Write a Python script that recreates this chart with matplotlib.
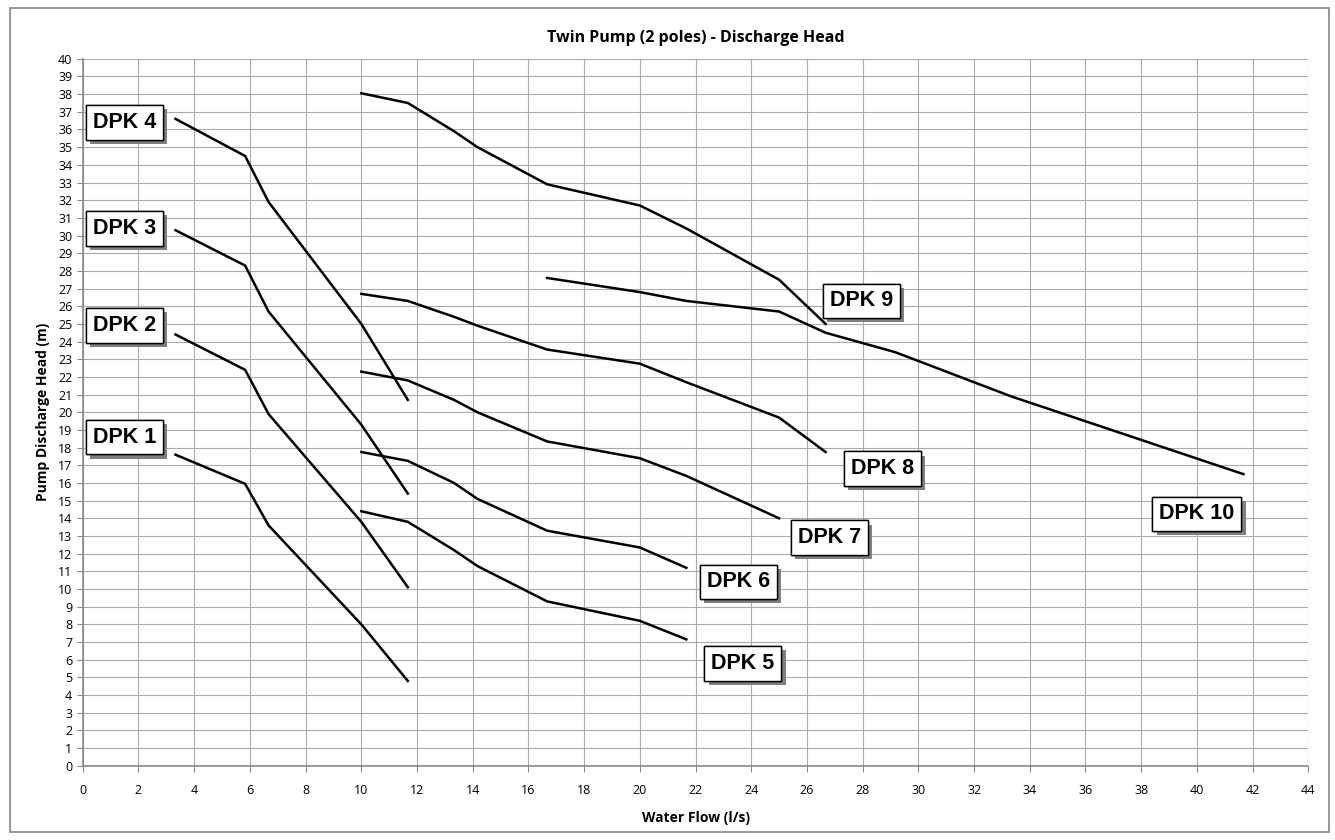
import matplotlib
matplotlib.use("Agg")
import matplotlib.pyplot as plt
import matplotlib.patheffects as pe
from matplotlib.patches import Rectangle

# flow values (l/s) and heads (m)
dpk1_x = [3.33, 5.83, 6.67, 10.0, 11.67]
dpk1_y = [17.6, 15.95, 13.6, 8.0, 4.8]
dpk2_x = [3.33, 5.83, 6.67, 10.0, 11.67]
dpk2_y = [24.4, 22.4, 19.9, 13.8, 10.1]
dpk3_x = [3.33, 5.83, 6.67, 10.0, 11.67]
dpk3_y = [30.3, 28.3, 25.7, 19.3, 15.4]
dpk4_x = [3.33, 5.83, 6.67, 10.0, 11.67]
dpk4_y = [36.6, 34.5, 31.9, 25.0, 20.7]
dpk5_x = [10.0, 11.67, 13.33, 14.17, 16.67, 20.0, 21.67]
dpk5_y = [14.4, 13.8, 12.2, 11.3, 9.3, 8.2, 7.15]
dpk6_x = [10.0, 11.67, 13.33, 14.17, 16.67, 20.0, 21.67]
dpk6_y = [17.75, 17.25, 16.0, 15.1, 13.3, 12.35, 11.2]
dpk7_x = [10.0, 11.67, 13.33, 14.17, 16.67, 20.0, 21.67, 25.0]
dpk7_y = [22.3, 21.8, 20.7, 20.0, 18.35, 17.4, 16.4, 14.0]
dpk8_x = [10.0, 11.67, 13.33, 14.17, 16.67, 20.0, 21.67, 25.0, 26.67]
dpk8_y = [26.7, 26.3, 25.4, 24.9, 23.55, 22.75, 21.7, 19.7, 17.75]
dpk9_x = [10.0, 11.67, 13.33, 14.17, 16.67, 20.0, 21.67, 25.0, 26.67]
dpk9_y = [38.05, 37.5, 35.9, 35.0, 32.9, 31.7, 30.4, 27.5, 25.0]
dpk10_x = [16.67, 20.0, 21.67, 25.0, 26.67, 29.17, 33.33, 41.67]
dpk10_y = [27.6, 26.8, 26.3, 25.7, 24.5, 23.4, 20.9, 16.5]

curves = [(dpk1_x, dpk1_y), (dpk2_x, dpk2_y), (dpk3_x, dpk3_y), (dpk4_x, dpk4_y),
          (dpk5_x, dpk5_y), (dpk6_x, dpk6_y), (dpk7_x, dpk7_y), (dpk8_x, dpk8_y),
          (dpk9_x, dpk9_y), (dpk10_x, dpk10_y)]

labels = ["DPK 1", "DPK 2", "DPK 3", "DPK 4", "DPK 5",
          "DPK 6", "DPK 7", "DPK 8", "DPK 9", "DPK 10"]
label_x = [1.5, 1.5, 1.5, 1.5, 23.7, 23.55, 26.8, 28.7, 27.95, 40.0]
label_y = [18.6, 24.9, 30.4, 36.4, 5.8, 10.4, 12.9, 16.8, 26.3, 14.25]

fig = plt.figure(figsize=(13.35, 8.4), dpi=100)
ax = fig.add_axes([0.062, 0.0884, 0.918, 0.8416])

# outer chart frame
fig.patches.append(Rectangle((0.0075, 0.009), 0.988, 0.982, transform=fig.transFigure,
                             fill=False, edgecolor="#888888", linewidth=1.2))

for xs, ys in curves:
    ax.plot(xs, ys, color="black", linewidth=1.8, zorder=3)

for name, lx, ly in zip(labels, label_x, label_y):
    t = ax.text(lx, ly, name, ha="center", va="center", fontsize=15.5, fontweight="bold",
                family="Liberation Sans", zorder=5,
                bbox=dict(boxstyle="square,pad=0.32", facecolor="white",
                          edgecolor="black", linewidth=1.0))
    t.get_bbox_patch().set_path_effects([
        pe.withSimplePatchShadow(offset=(3, -3), shadow_rgbFace="#808080", alpha=1.0),
        pe.Normal()])

ax.set_xlim(0, 44)
ax.set_ylim(0, 40)
ax.set_xticks(range(0, 45, 2))
ax.set_yticks(range(0, 41, 1))
ax.grid(True, color="#ababab", linewidth=0.8, zorder=0)
ax.set_axisbelow(True)

for side in ["top", "right"]:
    ax.spines[side].set_visible(False)
for side in ["left", "bottom"]:
    ax.spines[side].set_color("#888888")
    ax.spines[side].set_linewidth(1.2)

ax.tick_params(axis="both", colors="#888888", length=4, labelcolor="black", labelsize=9)
ax.tick_params(axis="x", pad=9)
for lbl in ax.get_xticklabels() + ax.get_yticklabels():
    lbl.set_family("Open Sans")

ax.set_title("Twin Pump (2 poles) - Discharge Head", fontsize=11.5, fontweight="bold",
             family="Open Sans", pad=12)
ax.set_xlabel("Water Flow (l/s)", fontsize=10, fontweight="bold", family="Open Sans", labelpad=10)
ax.set_ylabel("Pump Discharge Head (m)", fontsize=10, fontweight="bold", family="Open Sans", labelpad=6)

fig.savefig("out.png", dpi=100)
